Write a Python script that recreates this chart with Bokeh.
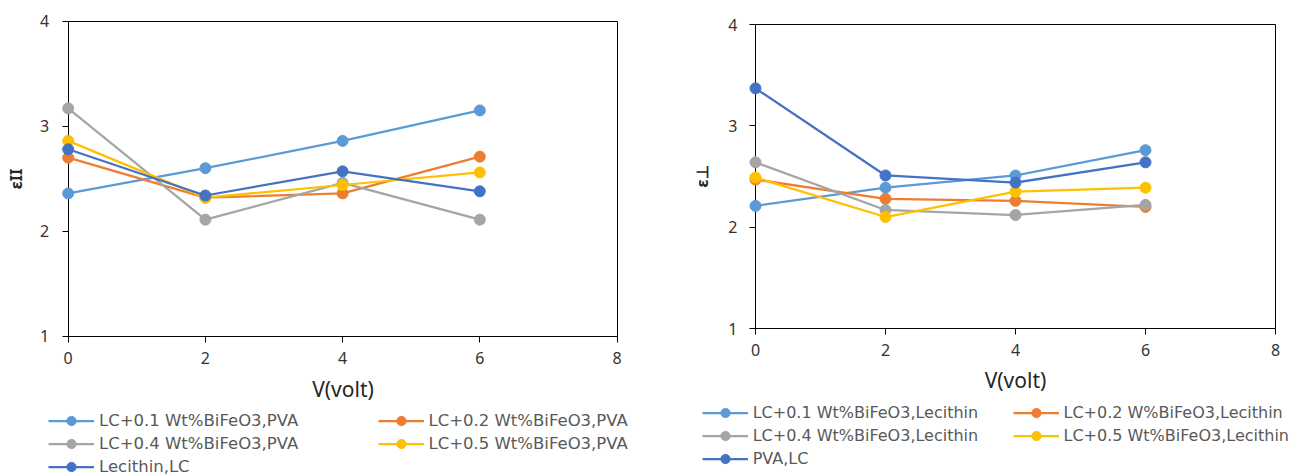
from bokeh.plotting import figure
from bokeh.models import Range1d, Legend, LegendItem, FixedTicker, LinearAxis
from bokeh.layouts import row
from bokeh.embed import file_html
from bokeh.resources import INLINE

# ---------------- data ----------------
volts = [0, 2, 4, 6]

left_labels = ["LC+0.1 Wt%BiFeO3,PVA", "LC+0.2 Wt%BiFeO3,PVA",
               "LC+0.4 Wt%BiFeO3,PVA", "LC+0.5 Wt%BiFeO3,PVA",
               "Lecithin,LC"]
left_01 = [2.36, 2.60, 2.86, 3.15]
left_02 = [2.70, 2.32, 2.36, 2.71]
left_04 = [3.17, 2.11, 2.46, 2.11]
left_05 = [2.86, 2.32, 2.44, 2.56]
left_lec = [2.78, 2.34, 2.57, 2.38]

right_labels = ["LC+0.1 Wt%BiFeO3,Lecithin", "LC+0.2 W%BiFeO3,Lecithin",
                "LC+0.4 Wt%BiFeO3,Lecithin", "LC+0.5 Wt%BiFeO3,Lecithin",
                "PVA,LC"]
right_01 = [2.21, 2.39, 2.51, 2.76]
right_02 = [2.47, 2.28, 2.26, 2.20]
right_04 = [2.64, 2.17, 2.12, 2.22]
right_05 = [2.49, 2.10, 2.35, 2.39]
right_pva = [3.37, 2.51, 2.44, 2.64]

x_ticks = [0, 2, 4, 6, 8]
y_ticks = [1, 2, 3, 4]
x_lim = (0, 8)
y_lim = (1, 4)

colors = ["#5B9BD5", "#ED7D31", "#A5A5A5", "#FFC000", "#4472C4"]

FONT = "Noto Sans"
LEG_FONT = "DejaVu Sans"
HEIGHT = 475


def make_chart(series, labels, ylabel, W, box, legA_loc, legB_loc,
               xs1, xs2, ys1, ys2, leg_size):
    # box = pixel position of the axes box on the canvas: (left, right, top, bottom)
    bx0, bx1, by_top, by_bot = box
    kx = (bx1 - bx0) / (x_lim[1] - x_lim[0])
    ky = (by_bot - by_top) / (y_lim[1] - y_lim[0])
    xr = Range1d(x_lim[0] - bx0 / kx, x_lim[1] + (W - bx1) / kx)
    yr = Range1d(y_lim[0] - (HEIGHT - by_bot) / ky, y_lim[1] + by_top / ky)

    p = figure(width=W, height=HEIGHT, title=None,
               output_backend="svg", toolbar_location=None,
               x_range=xr, y_range=yr,
               min_border_left=0, min_border_right=0,
               min_border_top=0, min_border_bottom=0)
    p.background_fill_color = "white"
    p.border_fill_color = "white"
    p.outline_line_color = None
    p.xgrid.visible = False
    p.ygrid.visible = False

    for ax in (p.xaxis[0], p.yaxis[0]):
        ax.axis_line_color = "black"
        ax.axis_line_width = 1
        ax.major_tick_line_color = "black"
        ax.major_tick_out = 6
        ax.major_tick_in = 0
        ax.minor_tick_line_color = None
        ax.major_label_text_font = FONT
        ax.major_label_text_font_size = "16px"
        ax.major_label_text_color = "#333333"
        ax.axis_label_text_font = FONT
        ax.axis_label_text_color = "#262626"

    p.xaxis.ticker = FixedTicker(ticks=x_ticks)
    p.xaxis.fixed_location = y_lim[0]
    p.xaxis.bounds = x_lim
    p.yaxis.ticker = FixedTicker(ticks=y_ticks)
    p.yaxis.fixed_location = x_lim[0]
    p.yaxis.bounds = y_lim
    p.xaxis.axis_label = "V(volt)"
    p.xaxis.axis_label_text_font_size = "21px"
    p.xaxis.axis_label_text_font_style = "normal"
    p.xaxis.major_label_standoff = xs1
    p.xaxis.axis_label_standoff = xs2
    p.yaxis.axis_label = ylabel
    p.yaxis.axis_label_text_font_size = "16px"
    p.yaxis.axis_label_text_font_style = "bold"
    p.yaxis.major_label_standoff = ys1
    p.yaxis.axis_label_standoff = ys2

    # top and right edges of the axes box
    top = LinearAxis(ticker=FixedTicker(ticks=[]), axis_line_color="black",
                     major_tick_line_color=None, minor_tick_line_color=None,
                     fixed_location=y_lim[1], bounds=x_lim)
    right = LinearAxis(ticker=FixedTicker(ticks=[]), axis_line_color="black",
                       major_tick_line_color=None, minor_tick_line_color=None,
                       fixed_location=x_lim[1], bounds=y_lim)
    p.add_layout(top, "above")
    p.add_layout(right, "right")

    items = []
    for ys, lab, col in zip(series, labels, colors):
        lr = p.line(volts, ys, line_color=col, line_width=2.25, level="overlay")
        sr = p.scatter(volts, ys, size=11, fill_color=col, line_color=col,
                       level="overlay")
        items.append(LegendItem(label=lab, renderers=[lr, sr]))

    def mk_legend(its, loc):
        return Legend(items=its, location=loc, orientation="vertical",
                      padding=0, margin=0, spacing=0,
                      glyph_width=46, glyph_height=23, label_height=23,
                      label_standoff=5, border_line_color=None,
                      background_fill_alpha=0,
                      label_text_font=LEG_FONT, label_text_font_size=leg_size,
                      label_text_color="#595959")

    p.add_layout(mk_legend([items[0], items[2], items[4]], legA_loc), "center")
    p.add_layout(mk_legend([items[1], items[3]], legB_loc), "center")
    return p


p1 = make_chart([left_01, left_02, left_04, left_05, left_lec], left_labels,
                "εII", 680, (67.7, 616.5, 20.7, 335.7),
                (48, -2.5), (377.5, 20.5), 10, 7, 13, 10, "16.5px")
p2 = make_chart([right_01, right_02, right_04, right_05, right_pva], right_labels,
                "ε⊥", 614, (75, 595, 24, 328),
                (21.7, 5.5), (332.5, 28.5), 9, 7, 12, 12, "16px")

layout = row(p1, p2)
open("out.html", "w").write(file_html(layout, INLINE))
